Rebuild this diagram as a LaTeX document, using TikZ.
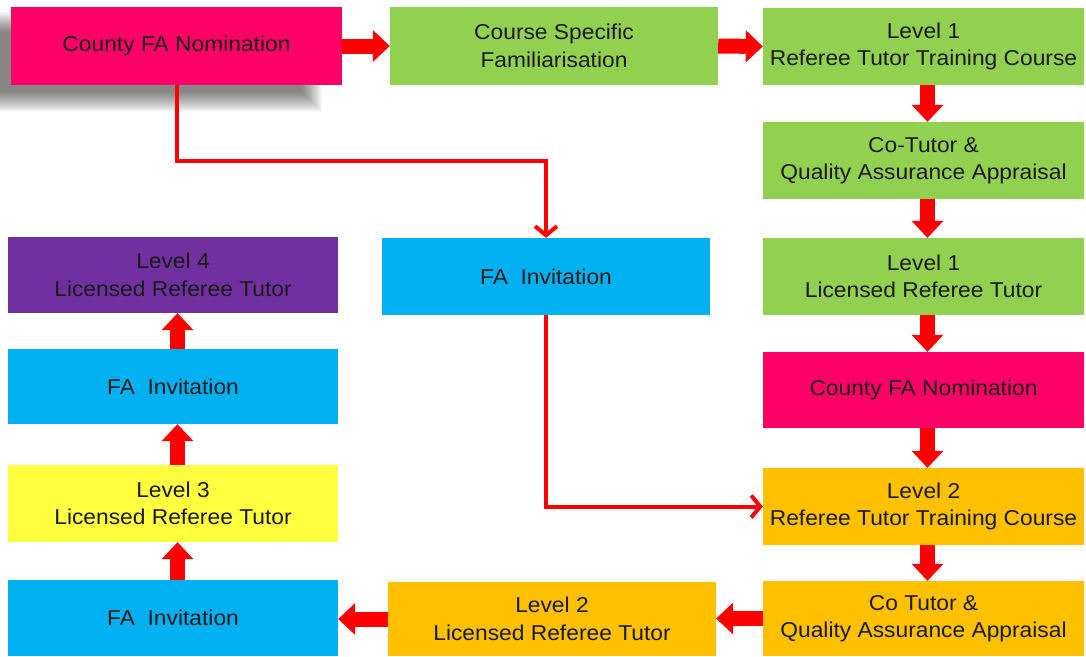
\documentclass[tikz,border=0pt]{standalone}
\usepackage{fontspec}
\setmainfont{Liberation Sans}[FakeStretch=1.06]
\usetikzlibrary{arrows.meta}
\definecolor{cpink}{HTML}{FF0066}
\definecolor{cgreen}{HTML}{92D050}
\definecolor{cblue}{HTML}{00B0F0}
\definecolor{cpurple}{HTML}{7030A0}
\definecolor{cyellow}{HTML}{FFFF40}
\definecolor{corange}{HTML}{FFC000}
\definecolor{cred}{HTML}{FF0000}
\definecolor{ctext}{HTML}{1A1A1A}
\begin{document}
\begin{tikzpicture}[x=1pt,y=-1pt,
  box/.style={rectangle, inner sep=0pt, align=center, text=ctext,
    font=\fontsize{21.5}{27.5}\selectfont},
  rcol/.style={box, minimum width=321pt, minimum height=77pt},
  lcol/.style={box, minimum width=330pt, minimum height=76pt},
  shadowlayer/.style={fill=black, fill opacity=0.028},
  blockarr/.style={draw=cred, line width=15pt,
    -{Triangle[length=17pt,width=32pt,line width=0pt]}},
  thinarr/.style={draw=cred, line width=4pt,
    -{Straight Barb[length=9pt,width=22pt]}}]
\useasboundingbox (0,0) rectangle (1086,656);
\fill[white] (0,0) rectangle (1086,656);
% soft shadow of the first box
\foreach \i in {0,1,...,20}{
  \fill[shadowlayer] (-31+\i,12+\i) rectangle (322-\i,112-\i);
}
% top row
\node[box, fill=cpink, minimum width=331pt, minimum height=78pt]
  (nom1) at (176.5,46) {County FA Nomination};
\node[box, fill=cgreen, minimum width=328pt, minimum height=78pt]
  (csf) at (554,46) {Course Specific\\Familiarisation};
% right column
\node[rcol, fill=cgreen] (l1ttc) at (923.5,46.5) {Level 1\\Referee Tutor Training Course};
\node[rcol, fill=cgreen] (cot1) at (923.5,160.5) {Co-Tutor \&\\Quality Assurance Appraisal};
\node[rcol, fill=cgreen] (l1lrt) at (923.5,276.5) {Level 1\\Licensed Referee Tutor};
\node[rcol, fill=cpink, minimum height=76pt] (nom2) at (923.5,390) {County FA Nomination};
\node[rcol, fill=corange] (l2ttc) at (923.5,506.5) {Level 2\\Referee Tutor Training Course};
\node[rcol, fill=corange, minimum height=75pt] (cot2) at (923.5,618.5) {Co Tutor \&\\Quality Assurance Appraisal};
% middle
\node[box, fill=cblue, minimum width=328pt, minimum height=77pt]
  (famid) at (546,276.5) {FA~~Invitation};
\node[box, fill=corange, minimum width=328pt, minimum height=74pt]
  (l2lrt) at (552,619) {Level 2\\Licensed Referee Tutor};
% left column
\node[lcol, fill=cpurple] (l4) at (173,275) {Level 4\\Licensed Referee Tutor};
\node[lcol, fill=cblue, minimum height=75pt] (fa2) at (173,386.5) {FA~~Invitation};
\node[lcol, fill=cyellow, minimum height=77pt] (l3) at (173,503.5) {Level 3\\Licensed Referee Tutor};
\node[lcol, fill=cblue] (fa1) at (173,618) {FA~~Invitation};
% block arrows
\draw[blockarr] (nom1.east) -- (csf.west);
\draw[blockarr] (csf.east) -- (l1ttc.west);
\draw[blockarr] ([xshift=4pt]l1ttc.south) -- ([xshift=4pt]cot1.north);
\draw[blockarr] ([xshift=4pt]cot1.south) -- ([xshift=4pt]l1lrt.north);
\draw[blockarr] ([xshift=4pt]l1lrt.south) -- ([xshift=4pt]nom2.north);
\draw[blockarr] ([xshift=4pt]nom2.south) -- ([xshift=4pt]l2ttc.north);
\draw[blockarr] ([xshift=4pt]l2ttc.south) -- ([xshift=4pt]cot2.north);
\draw[blockarr] (cot2.west) -- (cot2.west -| l2lrt.east);
\draw[blockarr] (l2lrt.west) -- (l2lrt.west -| fa1.east);
\draw[blockarr] ([xshift=4.5pt]fa1.north) -- ([xshift=4.5pt]l3.south);
\draw[blockarr] ([xshift=4.5pt]l3.north) -- ([xshift=4.5pt]fa2.south);
\draw[blockarr] ([xshift=4.5pt]fa2.north) -- ([xshift=4.5pt]l4.south);
% thin connectors
\draw[thinarr] (nom1.south) -- ++(0,76) -| (famid.north);
\draw[thinarr] (famid.south) |- (l2ttc.west);
\end{tikzpicture}
\end{document}
